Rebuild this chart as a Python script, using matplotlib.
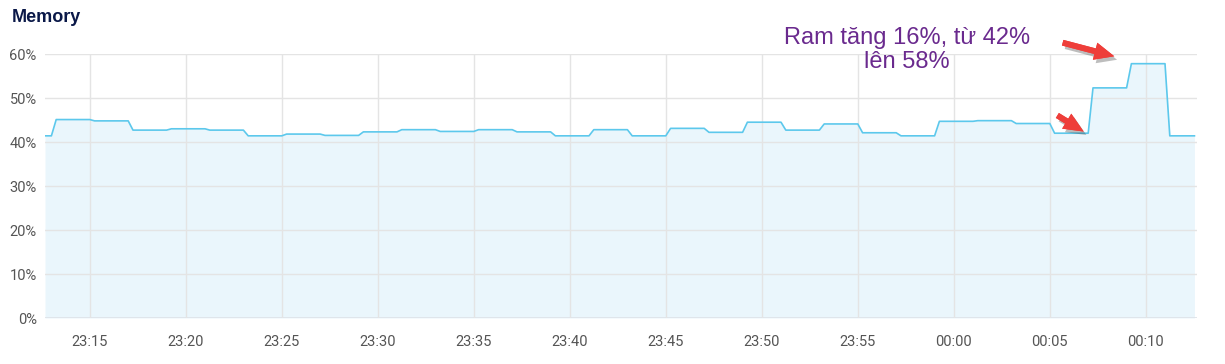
import matplotlib
matplotlib.use("Agg")
import matplotlib.pyplot as plt
import matplotlib.dates as mdates
import matplotlib.patheffects as pe
import pandas as pd

# ---- data (memory usage, % ; values change at 2-minute sample boundaries) ----
view_start = "2024-01-01 23:12:40"
view_end = "2024-01-02 00:12:40"
data_end = "2024-01-02 00:12:32"
initial_value = 41.4
change_times = [
    "2024-01-01 23:13", "2024-01-01 23:15", "2024-01-01 23:17", "2024-01-01 23:19",
    "2024-01-01 23:21", "2024-01-01 23:23", "2024-01-01 23:25", "2024-01-01 23:27",
    "2024-01-01 23:29", "2024-01-01 23:31", "2024-01-01 23:33", "2024-01-01 23:35",
    "2024-01-01 23:37", "2024-01-01 23:39", "2024-01-01 23:41", "2024-01-01 23:43",
    "2024-01-01 23:45", "2024-01-01 23:47", "2024-01-01 23:49", "2024-01-01 23:51",
    "2024-01-01 23:53", "2024-01-01 23:55", "2024-01-01 23:57", "2024-01-01 23:59",
    "2024-01-02 00:01", "2024-01-02 00:03", "2024-01-02 00:05", "2024-01-02 00:07",
    "2024-01-02 00:09", "2024-01-02 00:11",
]
values_after = [
    45.1, 44.8, 42.7, 43.0, 42.7, 41.4, 41.8, 41.5, 42.3, 42.8,
    42.4, 42.8, 42.3, 41.4, 42.8, 41.4, 43.1, 42.2, 44.5, 42.7,
    44.1, 42.1, 41.4, 44.7, 44.85, 44.2, 42.0, 52.3, 57.8, 41.4,
]
y_ticks = [0, 10, 20, 30, 40, 50, 60]
title = "Memory"
note = "Ram tăng 16%, từ 42%\nlên 58%"

# ---- build series ----
ramp = pd.Timedelta(seconds=15)
ts = [pd.Timestamp(view_start)]
vs = [initial_value]
prev = initial_value
for t, v in zip(pd.to_datetime(change_times), values_after):
    ts += [t, t + ramp]
    vs += [prev, v]
    prev = v
ts.append(pd.Timestamp(data_end))
vs.append(prev)

# ---- figure ----
W, H = 1225, 364
fig = plt.figure(figsize=(W / 100, H / 100), dpi=100)
ax = fig.add_axes([45 / W, (H - 318) / H, (1197 - 45) / W, (318 - 54) / H])

line_c = "#5CC8EC"
fill_c = "#EAF6FC"
grid_c = "#E4E4E4"

ax.fill_between(ts, vs, 0, color=fill_c, lw=0, zorder=1)
ax.plot(ts, vs, color=line_c, lw=1.2, zorder=3)

ax.set_xlim(pd.Timestamp(view_start), pd.Timestamp(view_end))
ax.set_ylim(0, 60)
ax.set_yticks(y_ticks)
ax.set_yticklabels([f"{v}%" for v in y_ticks])
ax.xaxis.set_major_locator(mdates.MinuteLocator(byminute=range(0, 60, 5)))
ax.xaxis.set_major_formatter(mdates.DateFormatter("%H:%M"))

ax.grid(True, color=grid_c, lw=1, zorder=2)
ax.set_axisbelow(False)
for s in ax.spines.values():
    s.set_visible(False)
ax.axhline(0, color="#DCE3EA", lw=1.2, zorder=2)
ax.tick_params(length=0, labelsize=10.5, colors="#555555")
ax.tick_params(axis="x", pad=12)
ax.tick_params(axis="y", pad=6)
for lab in ax.get_xticklabels() + ax.get_yticklabels():
    lab.set_fontfamily("Roboto")

fig.text(12 / W, 1 - 17 / H, title, fontsize=13, fontweight="bold",
         color="#0A1848", family="Liberation Sans", va="center", ha="left")

fig.text(907 / W, 1 - 50 / H, note, fontsize=17, color="#6A2A8E",
         family="Liberation Sans", ha="center", va="center", linespacing=1.08)

arrow_c = "#EE3E3A"
shadow = [pe.withSimplePatchShadow(offset=(2, -2.5), alpha=0.35, shadow_rgbFace="#444444")]
for (x0, y0), (x1, y1) in [((1060, 42), (1117, 57)), ((1055, 114), (1086, 133))]:
    ann = fig.add_artist(matplotlib.patches.FancyArrowPatch(
        (x0 / W, 1 - y0 / H), (x1 / W, 1 - y1 / H), transform=fig.transFigure,
        arrowstyle="simple,head_length=1.3,head_width=1.15,tail_width=0.38",
        mutation_scale=11, color=arrow_c, lw=0, zorder=10, capstyle="round"))
    ann.set_path_effects(shadow + [pe.Normal()])

fig.savefig("out.png", dpi=100)
